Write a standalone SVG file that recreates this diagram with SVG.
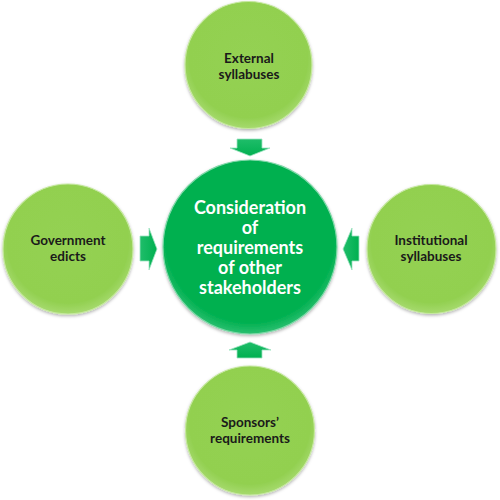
<svg xmlns="http://www.w3.org/2000/svg" width="500" height="500" viewBox="0 0 500 500">
<defs>
<radialGradient id="gLight" cx="50%" cy="45%" r="55%">
<stop offset="0" stop-color="#94d152"/>
<stop offset="0.85" stop-color="#92d050"/>
<stop offset="1" stop-color="#a6da6e"/>
</radialGradient>
<radialGradient id="gDark" cx="50%" cy="45%" r="55%">
<stop offset="0" stop-color="#00b050"/>
<stop offset="0.88" stop-color="#00b050"/>
<stop offset="1" stop-color="#2cc071"/>
</radialGradient>
<linearGradient id="gArrV" x1="0" y1="0" x2="0" y2="1">
<stop offset="0" stop-color="#1fbd6a"/>
<stop offset="1" stop-color="#00b050"/>
</linearGradient>
<linearGradient id="gArrH" x1="0" y1="0" x2="1" y2="0">
<stop offset="0" stop-color="#1fbd6a"/>
<stop offset="1" stop-color="#00b050"/>
</linearGradient>
<filter id="sh" x="-20%" y="-20%" width="140%" height="140%">
<feDropShadow dx="0" dy="1.5" stdDeviation="1.5" flood-color="#000" flood-opacity="0.3"/>
</filter>
</defs>
<style>
.outer{fill:url(#gLight);stroke:#c6e8a0;stroke-width:1.2;filter:url(#sh)}
.center{fill:url(#gDark);stroke:#7fd8a8;stroke-width:1.2;filter:url(#sh)}
.arr{stroke:#9fe3c2;stroke-width:0.8}
.t{font-family:Lato,"Open Sans","Liberation Sans",sans-serif;font-weight:bold;text-anchor:middle}
.to{font-size:13.5px;fill:#1a1a1a}
.tc{font-size:18px;fill:#ffffff}
</style>
<g id="connectors">
<path class="arr" fill="url(#gArrV)" d="M237,139 H262 V148 H270 L250,156 L230,148 H237 Z"/>
<path class="arr" fill="url(#gArrV)" d="M237,358 H262 V350 H271 L250,342 L229,350 H237 Z"/>
<path class="arr" fill="url(#gArrH)" d="M140,236 V261 H149 V270 L157,249 L149,228 V236 Z"/>
<path class="arr" fill="url(#gArrH)" d="M359,236 V261 H352 V270 L343,249 L352,228 V236 Z"/>
</g>
<g id="center">
<circle class="center" cx="250" cy="247" r="87"/>
<text class="t tc" x="250" y="214">Consideration</text>
<text class="t tc" x="250" y="234">of</text>
<text class="t tc" x="250" y="254">requirements</text>
<text class="t tc" x="250" y="274">of other</text>
<text class="t tc" x="250" y="294">stakeholders</text>
</g>
<g id="top">
<circle class="outer" cx="248.5" cy="65" r="63.5"/>
<text class="t to" x="249" y="63">External</text>
<text class="t to" x="249" y="79">syllabuses</text>
</g>
<g id="left">
<circle class="outer" cx="68" cy="249" r="65"/>
<text class="t to" x="68" y="245">Government</text>
<text class="t to" x="68" y="261">edicts</text>
</g>
<g id="right">
<circle class="outer" cx="431.5" cy="249" r="64.5"/>
<text class="t to" x="431" y="245">Institutional</text>
<text class="t to" x="431" y="261">syllabuses</text>
</g>
<g id="bottom">
<circle class="outer" cx="250" cy="430.5" r="64.5"/>
<text class="t to" x="250" y="427">Sponsors’</text>
<text class="t to" x="250" y="443">requirements</text>
</g>
</svg>
